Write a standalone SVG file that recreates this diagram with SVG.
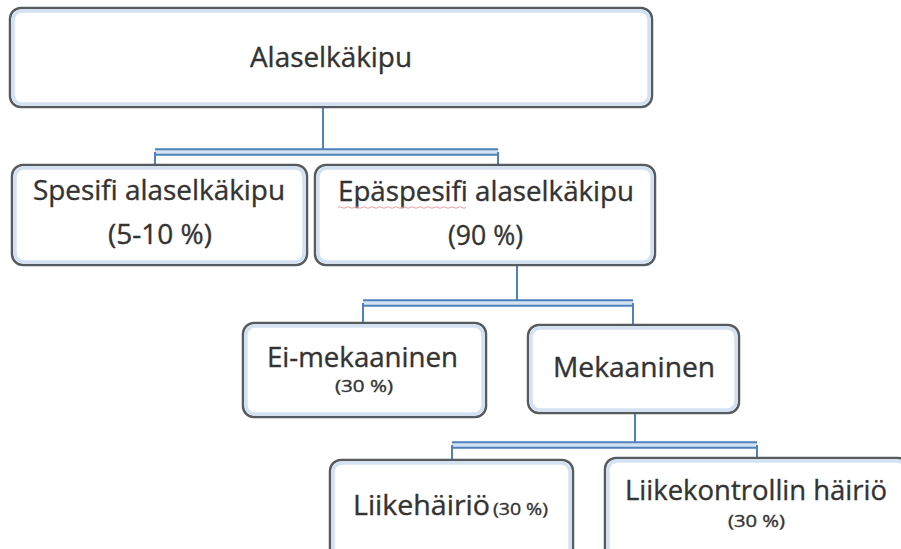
<svg xmlns="http://www.w3.org/2000/svg" width="901" height="549" viewBox="0 0 901 549">
  <style>
    .box { fill: #ffffff; stroke: #565b60; stroke-width: 2.5; }
    .glow { fill: none; stroke: #d3e2f2; stroke-width: 3.5; }
    .t { font-family: "Open Sans", "Liberation Sans", sans-serif; fill: #333333; stroke: #333333; stroke-width: 0.35; }
    .big { font-size: 27px; }
    .small { font-size: 16px; }
    .stem { fill: none; stroke: #4f81bd; stroke-width: 2; }
    .barOut { fill: none; stroke: #4f81bd; stroke-width: 7.5; }
    .barIn { fill: none; stroke: #d3e2f2; stroke-width: 3.5; }
  </style>
  <rect width="901" height="549" fill="#ffffff"/>

  <g id="connectors">
    <path class="stem" d="M323,107 V149"/>
    <path class="barOut" d="M155,152 H498"/>
    <path class="barIn" d="M155,152 H498"/>
    <path class="stem" d="M155,152 V165 M498,152 V168"/>

    <path class="stem" d="M517,265 V300"/>
    <path class="barOut" d="M363,303 H633"/>
    <path class="barIn" d="M363,303 H633"/>
    <path class="stem" d="M363,303 V323 M633,303 V325"/>

    <path class="stem" d="M635,413 V442"/>
    <path class="barOut" d="M452,445 H757"/>
    <path class="barIn" d="M452,445 H757"/>
    <path class="stem" d="M452,445 V460 M757,445 V458"/>
  </g>

  <g id="n-alaselkakipu">
    <rect class="box" x="10" y="8" width="642" height="99" rx="11"/>
    <rect class="glow" x="13" y="11" width="636" height="93" rx="9"/>
    <text class="t big" x="250" y="67" textLength="162" lengthAdjust="spacingAndGlyphs">Alaselkäkipu</text>
  </g>

  <g id="n-spesifi">
    <rect class="box" x="12" y="165" width="295" height="100" rx="11"/>
    <rect class="glow" x="15" y="168" width="289" height="94" rx="9"/>
    <text class="t big" x="33" y="200" textLength="252" lengthAdjust="spacingAndGlyphs">Spesifi alaselkäkipu</text>
    <text class="t big" x="108" y="244" textLength="104" lengthAdjust="spacingAndGlyphs">(5-10 %)</text>
  </g>

  <g id="n-epaspesifi">
    <rect class="box" x="315" y="165" width="340" height="100" rx="11"/>
    <rect class="glow" x="318" y="168" width="334" height="94" rx="9"/>
    <text class="t big" x="338" y="201" textLength="296" lengthAdjust="spacingAndGlyphs">Epäspesifi alaselkäkipu</text>
    <path d="M338,207.5 q2,-1.5 4,0 t4,0 t4,0 t4,0 t4,0 t4,0 t4,0 t4,0 t4,0 t4,0 t4,0 t4,0 t4,0 t4,0 t4,0 t4,0 t4,0 t4,0 t4,0 t4,0 t4,0 t4,0 t4,0 t4,0 t4,0 t4,0 t4,0 t4,0 t4,0 t4,0 t4,0 t4,0" fill="none" stroke="#e8a0a0" stroke-width="1"/>
    <text class="t big" x="448" y="245" textLength="75" lengthAdjust="spacingAndGlyphs">(90 %)</text>
  </g>

  <g id="n-eimekaaninen">
    <rect class="box" x="243" y="323" width="243" height="94" rx="11"/>
    <rect class="glow" x="246" y="326" width="237" height="88" rx="9"/>
    <text class="t big" x="267" y="367" textLength="191" lengthAdjust="spacingAndGlyphs">Ei-mekaaninen</text>
    <text class="t small" x="335" y="392" textLength="58" lengthAdjust="spacingAndGlyphs">(30 %)</text>
  </g>

  <g id="n-mekaaninen">
    <rect class="box" x="528" y="325" width="211" height="88" rx="11"/>
    <rect class="glow" x="531" y="328" width="205" height="82" rx="9"/>
    <text class="t big" x="553" y="377" textLength="162" lengthAdjust="spacingAndGlyphs">Mekaaninen</text>
  </g>

  <g id="n-liikehairio">
    <rect class="box" x="330" y="460" width="243" height="110" rx="11"/>
    <rect class="glow" x="333" y="463" width="237" height="104" rx="9"/>
    <text class="t big" x="353" y="515" textLength="137" lengthAdjust="spacingAndGlyphs">Liikehäiriö</text>
    <text class="t small" x="493" y="515" textLength="55" lengthAdjust="spacingAndGlyphs">(30 %)</text>
  </g>

  <g id="n-liikekontrollin">
    <rect class="box" x="605" y="458" width="304" height="112" rx="11"/>
    <rect class="glow" x="608" y="461" width="298" height="106" rx="9"/>
    <text class="t big" x="625" y="500" textLength="262" lengthAdjust="spacingAndGlyphs">Liikekontrollin häiriö</text>
    <text class="t small" x="728" y="527" textLength="57" lengthAdjust="spacingAndGlyphs">(30 %)</text>
  </g>
</svg>
